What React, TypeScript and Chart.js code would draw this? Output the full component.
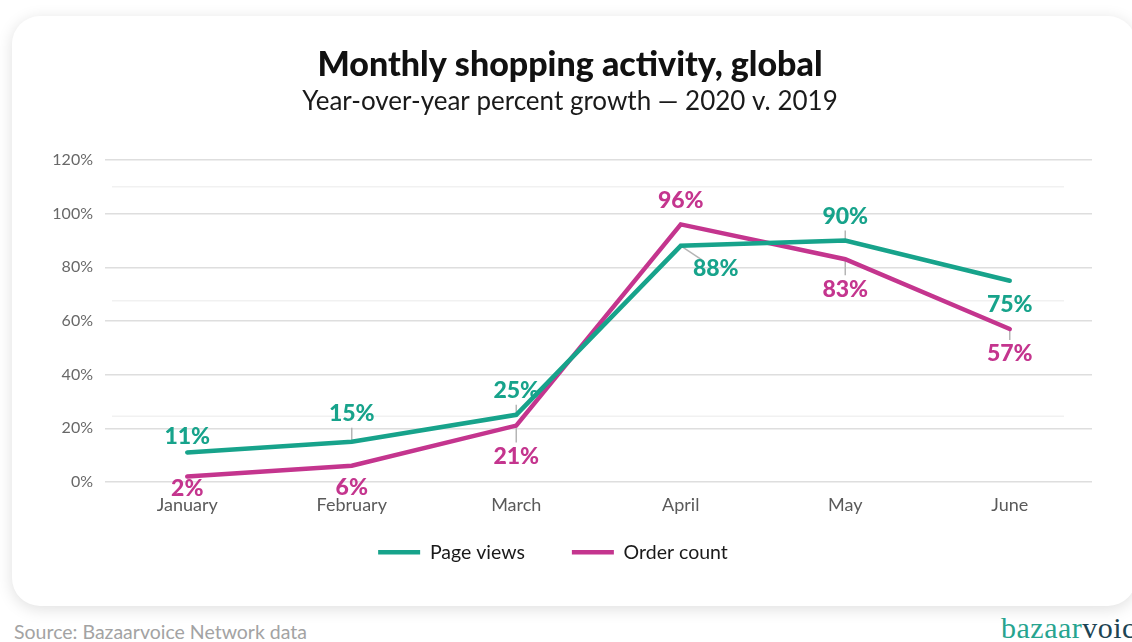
import React, { useEffect, useRef } from "react";
import { Chart, registerables } from "chart.js";

Chart.register(...registerables);

// ---- data ----
const months = ["January", "February", "March", "April", "May", "June"];
const pageViews = [11, 15, 25, 88, 90, 75];
const orderCount = [2, 6, 21, 96, 83, 57];
const yTickValues = [0, 20, 40, 60, 80, 100, 120];
const faintGuideValues = [24.5, 67.5, 110];

const titleText = "Monthly shopping activity, global";
const subtitleText = "Year-over-year percent growth — 2020 v. 2019";
const sourceText = "Source: Bazaarvoice Network data";

// ---- label placement (dx, dy from the point, leader line 1/0) ----
const pvLabelPlacement = [
  [0, -16, 0],
  [0, -28, 1],
  [0, -24, 1],
  [35, 23, 1],
  [0, -24, 1],
  [0, 24, 0],
];
const ocLabelPlacement = [
  [0, 12, 0],
  [0, 22, 0],
  [0, 31, 1],
  [0, -24, 0],
  [0, 30, 1],
  [0, 25, 1],
];

const TEAL = "#17a38b";
const MAGENTA = "#c4358e";
const FONT = "Lato, 'Open Sans', sans-serif";
const LEGEND_LIFT = 32;
const LEGEND_SHIFT_LEFT = 17;

const placements = [pvLabelPlacement, ocLabelPlacement];

const legendLiftPlugin = {
  id: "legendLift",
  afterLayout(chart: any) {
    const lg = chart.legend;
    if (lg) {
      lg.top -= LEGEND_LIFT;
      lg.bottom -= LEGEND_LIFT;
      lg.left -= LEGEND_SHIFT_LEFT;
      lg.right -= LEGEND_SHIFT_LEFT;
    }
  },
};

const faintGuidePlugin = {
  id: "faintGuides",
  beforeDatasetsDraw(chart: any) {
    const { ctx, scales } = chart;
    const y = scales.y;
    ctx.save();
    ctx.strokeStyle = "#f1f1f1";
    ctx.lineWidth = 1.5;
    faintGuideValues.forEach((v) => {
      const py = y.getPixelForValue(v);
      ctx.beginPath();
      ctx.moveTo(chart.chartArea.left + 7, py);
      ctx.lineTo(chart.chartArea.right - 28, py);
      ctx.stroke();
    });
    ctx.restore();
  },
};

const labelPlugin = {
  id: "pointLabels",
  beforeDatasetsDraw(chart: any) {
    const { ctx } = chart;
    ctx.save();
    ctx.strokeStyle = "#b5b5b5";
    ctx.lineWidth = 1.5;
    chart.data.datasets.forEach((ds: any, di: number) => {
      const meta = chart.getDatasetMeta(di);
      meta.data.forEach((pt: any, i: number) => {
        const [dx, dy, leader] = placements[di][i];
        if (!leader) return;
        const len = Math.hypot(dx, dy);
        const r = Math.abs(dx) > 0 ? 17 : 14;
        const ex = pt.x + (dx * (len - r)) / len;
        const ey = pt.y + (dy * (len - r)) / len;
        ctx.beginPath();
        ctx.moveTo(pt.x, pt.y);
        ctx.lineTo(ex, ey);
        ctx.stroke();
      });
    });
    ctx.restore();
  },
  afterDatasetsDraw(chart: any) {
    const { ctx } = chart;
    ctx.save();
    ctx.font = `900 23px ${FONT}`;
    ctx.textAlign = "center";
    ctx.textBaseline = "middle";
    chart.data.datasets.forEach((ds: any, di: number) => {
      const meta = chart.getDatasetMeta(di);
      ctx.fillStyle = ds.borderColor;
      meta.data.forEach((pt: any, i: number) => {
        const [dx, dy] = placements[di][i];
        ctx.fillText(`${ds.data[i]}%`, pt.x + dx, pt.y + dy);
      });
    });
    ctx.restore();
  },
};

function ChartCanvas() {
  const ref = useRef<HTMLCanvasElement>(null);
  useEffect(() => {
    if (!ref.current) return;
    const chart = new Chart(ref.current, {
      type: "line",
      data: {
        labels: months,
        datasets: [
          {
            label: "Page views",
            data: pageViews,
            borderColor: TEAL,
            backgroundColor: TEAL,
            borderWidth: 4.5,
            borderCapStyle: "round",
            borderJoinStyle: "miter",
            pointRadius: 0,
            tension: 0,
          },
          {
            label: "Order count",
            data: orderCount,
            borderColor: MAGENTA,
            backgroundColor: MAGENTA,
            borderWidth: 4.5,
            borderCapStyle: "round",
            borderJoinStyle: "miter",
            pointRadius: 0,
            tension: 0,
          },
        ],
      },
      options: {
        animation: false,
        responsive: false,
        maintainAspectRatio: false,
        layout: { padding: { left: 8, right: 0, top: 0, bottom: 38 } },
        scales: {
          x: {
            offset: true,
            grid: { display: false, drawTicks: false },
            border: { display: false },
            ticks: {
              color: "#5a5a5a",
              padding: 12,
              autoSkip: false,
              maxRotation: 0,
              font: { family: FONT, size: 18 },
            },
          },
          y: {
            min: 0,
            max: 120,
            afterBuildTicks(scale: any) {
              scale.ticks = yTickValues.map((v) => ({ value: v }));
            },
            afterFit(scale: any) {
              scale.width = 97;
            },
            grid: {
              color: "#dedede",
              lineWidth: 1.5,
              drawTicks: false,
            },
            border: { display: false },
            ticks: {
              color: "#686868",
              padding: 12,
              font: { family: FONT, size: 16 },
              callback: (v: any) => `${v}%`,
            },
          },
          yRight: {
            position: "right",
            display: true,
            min: 0,
            max: 120,
            grid: { display: false, drawTicks: false },
            border: { display: false },
            ticks: { display: false },
            afterFit(scale: any) {
              scale.width = 40;
            },
          },
        },
        plugins: {
          title: {
            display: true,
            text: titleText,
            color: "#111",
            font: { family: FONT, size: 34, weight: "900" as any, lineHeight: 1.2 },
            padding: { top: 45, bottom: 0 },
          },
          subtitle: {
            display: true,
            text: subtitleText,
            color: "#1a1a1a",
            font: { family: FONT, size: 26, weight: "normal" as any, lineHeight: 1.2 },
            padding: { top: 0, bottom: 43 },
          },
          legend: {
            display: true,
            position: "bottom",
            labels: {
              usePointStyle: true,
              pointStyle: "line",
              pointStyleWidth: 42,
              padding: 47,
              color: "#1a1a1a",
              font: { family: FONT, size: 19.5 },
            },
          },
          tooltip: { enabled: false },
        },
      },
      plugins: [faintGuidePlugin, labelPlugin, legendLiftPlugin],
    });
    return () => chart.destroy();
  }, []);
  return (
    <canvas
      ref={ref}
      width={1132}
      height={642}
      style={{ position: "absolute", left: 0, top: 0, width: 1132, height: 642 }}
    />
  );
}

export default function App() {
  useEffect(() => {
    document.body.style.margin = "0";
    document.body.style.background = "#ffffff";
  }, []);
  return (
    <div
      style={{
        position: "relative",
        width: 1132,
        height: 642,
        overflow: "hidden",
        background: "#ffffff",
        fontFamily: FONT,
      }}
    >
      <div
        style={{
          position: "absolute",
          left: 12,
          top: 16,
          width: 1124,
          height: 590,
          borderRadius: 28,
          background: "#ffffff",
          boxShadow: "0 3px 16px rgba(0,0,0,0.13)",
        }}
      />
      <div
        style={{
          position: "absolute",
          left: 14,
          top: 620,
          fontSize: 19.5,
          color: "#a3a3a3",
          lineHeight: "24px",
          whiteSpace: "nowrap",
        }}
      >
        {sourceText}
      </div>
      <div
        style={{
          position: "absolute",
          left: 1001,
          top: 612,
          fontSize: 30,
          fontFamily: "'Liberation Serif', serif",
          lineHeight: "32px",
          whiteSpace: "nowrap",
          letterSpacing: 0.5,
        }}
      >
        <span style={{ color: "#27a48f" }}>bazaar</span>
        <span style={{ color: "#1d4453" }}>voice</span>
      </div>
      <ChartCanvas />
    </div>
  );
}
